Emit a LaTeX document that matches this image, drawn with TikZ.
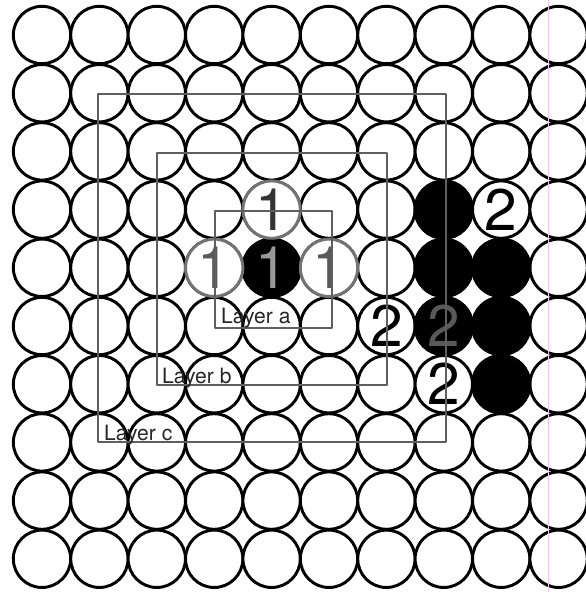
\documentclass[tikz,border=0pt]{standalone}
\usepackage{fontspec}
\setmainfont{TeX Gyre Heros}

\definecolor{layergray}{RGB}{95,95,95}
\definecolor{scanpink}{RGB}{240,200,240}

\tikzset{
  stone/.style={circle,draw=black,line width=2.5pt,fill=white,
    minimum size=1.72cm,inner sep=0pt},
  blackstone/.style={stone,fill=black},
  markstone/.style={stone,draw=black!55},
  layerbox/.style={draw=layergray,line width=1.9pt},
  digit/.style={font=\fontsize{50}{50}\selectfont,inner sep=0pt},
  layerlabel/.style={font=\fontsize{18}{18}\selectfont,text=black!85,
    inner sep=0pt,anchor=base west}
}

\begin{document}
\begin{tikzpicture}[x=0.03cm,y=-0.03cm,line cap=round,line join=round]
        \useasboundingbox (0,0) rectangle (585,592);

        %----------------------------------------------------------
        % Rejilla de 10 x 10 posiciones
        \foreach \c in {0,...,9}
          \foreach \r in {0,...,9}
            \node[stone] (s\c\r) at ({42+57.4*\c},{35+58.2*\r}) {};

        % Piedras negras
        \foreach \p in {44,73,74,75,84,85,86}
          \node[blackstone] (b\p) at (s\p) {};

        % Posiciones de la capa a
        \foreach \p in {43,34,54}
          \node[markstone] (m\p) at (s\p) {};

        %----------------------------------------------------------
        % Numeros de las capas
        \node[digit,text=black!80] (n43) at (s43) {1};
        \node[digit,text=black!65] (n34) at (s34) {1};
        \node[digit,text=black!40] (n44) at (s44) {1};
        \node[digit,text=black!65] (n54) at (s54) {1};
        \node[digit] (n83) at (s83) {2};
        \node[digit] (n65) at (s65) {2};
        \node[digit,text=black!65] (n75) at (s75) {2};
        \node[digit] (n76) at (s76) {2};

        %----------------------------------------------------------
        % Marcos de las capas
        \draw[layerbox] (215,211) rectangle (332,328);
        \draw[layerbox] (157,153) rectangle (387,385);
        \draw[layerbox] (98,94) rectangle (446,442);

        \node[layerlabel] (la) at (221,323) {Layer a};
        \node[layerlabel] (lb) at (162,383) {Layer b};
        \node[layerlabel] (lc) at (104,440) {Layer c};

        % Borde del escaneo
        \draw[scanpink,line width=0.6pt] (548,0) -- (548,592);
\end{tikzpicture}
\end{document}
